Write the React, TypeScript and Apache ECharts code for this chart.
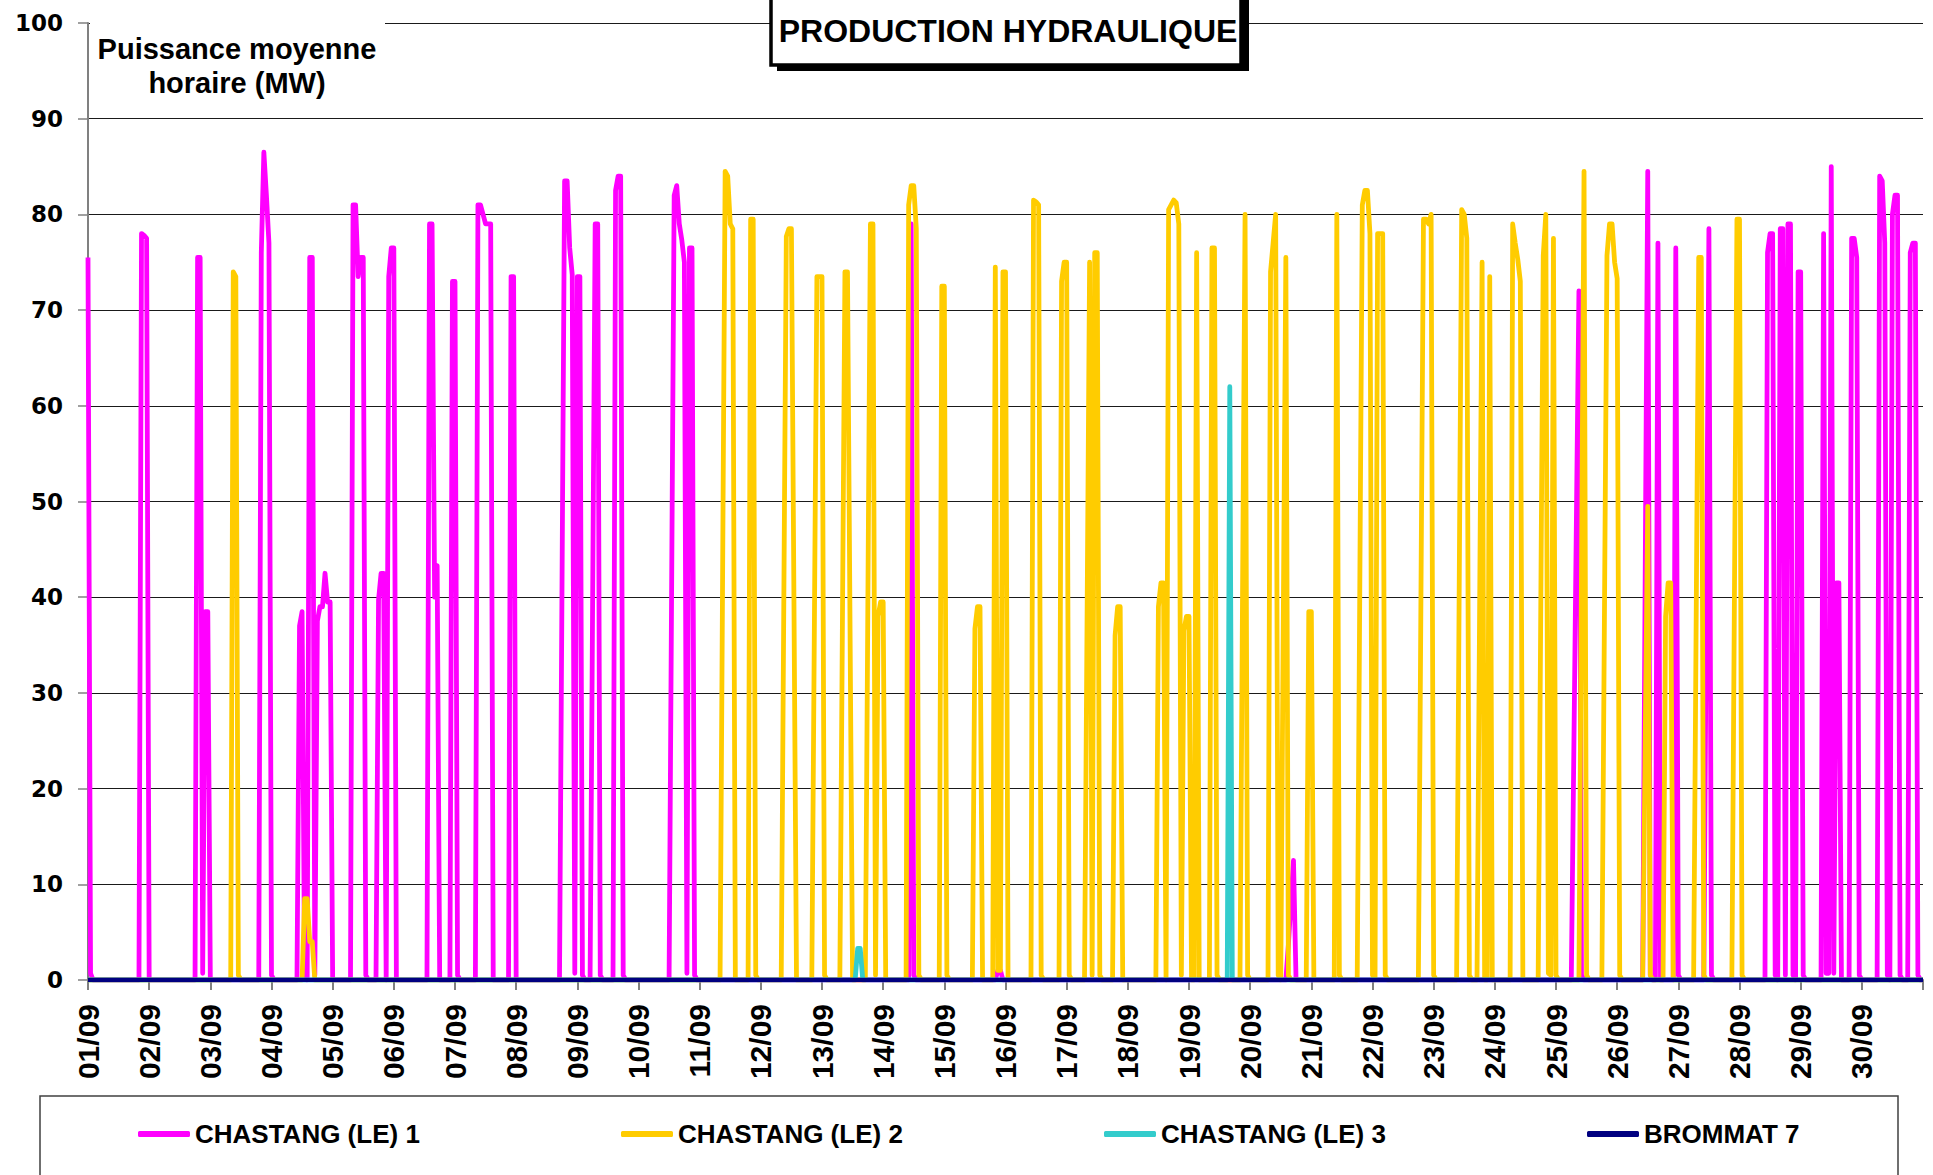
import React, { useEffect, useRef } from "react";
import * as echarts from "echarts";

const dayLabels = [
  "01/09", "02/09", "03/09", "04/09", "05/09", "06/09", "07/09", "08/09", "09/09", "10/09",
  "11/09", "12/09", "13/09", "14/09", "15/09", "16/09", "17/09", "18/09", "19/09", "20/09",
  "21/09", "22/09", "23/09", "24/09", "25/09", "26/09", "27/09", "28/09", "29/09", "30/09",
];

const seriesNames = ["CHASTANG (LE) 1", "CHASTANG (LE) 2", "CHASTANG (LE) 3", "BROMMAT 7"];
const seriesColors = ["#FF00FF", "#FFCC00", "#33CCCC", "#000080"];

// [hour since 01/09 00:00, MW]
const chastang1: [number, number][] = [
  [0, 75.5], [1, 0.7], [2, 0],
  [20, 0], [21, 78], [22, 77.8], [23, 77.5], [24, 0],
  [42, 0], [43, 75.5], [44, 75.5], [45, 0.7], [46, 38.5], [47, 38.5], [48, 0],
  [67, 0], [68, 76], [69, 86.5], [70, 82], [71, 77], [72, 0.5], [73, 0],
  [82, 0], [83, 37], [84, 38.5], [85, 0.5], [86, 0], [87, 75.5], [88, 75.5], [89, 0.5], [90, 37.5], [91, 39], [92, 39], [93, 42.5], [94, 39.5], [95, 39.5], [96, 0],
  [103, 0], [104, 81], [105, 81], [106, 73.5], [107, 75.5], [108, 75.5], [109, 0.5], [110, 0],
  [113, 0], [114, 39.7], [115, 42.5], [116, 42.5], [117, 0], [118, 73.5], [119, 76.5], [120, 76.5], [121, 0],
  [133, 0], [134, 79], [135, 79], [136, 40], [137, 43.3], [138, 0],
  [142, 0], [143, 73], [144, 73], [145, 0.5], [146, 0],
  [152, 0], [153, 81], [154, 81], [155, 80], [156, 79], [157, 79], [158, 79], [159, 0],
  [165, 0], [166, 73.5], [167, 73.5], [168, 0],
  [185, 0], [187, 83.5], [188, 83.5], [189, 76.5], [190, 73.7], [191, 0.7], [192, 73.5], [193, 73.5], [194, 0.5], [195, 0],
  [197, 0], [199, 79], [200, 79], [201, 0.5], [202, 0],
  [206, 0], [207, 82.5], [208, 84], [209, 84], [210, 0.5], [211, 0],
  [228, 0], [230, 82], [231, 83], [232, 79], [233, 77.3], [234, 75], [235, 0.7], [236, 76.5], [237, 76.5], [238, 0.5], [239, 0],
  [322, 0], [323, 79], [324, 0.5], [325, 0],
  [356, 0], [357, 1], [358, 1], [359, 0],
  [470, 0], [471, 3.7], [473, 12.5], [474, 0],
  [582, 0], [585, 72], [586, 0.5], [587, 0],
  [610, 0], [612, 84.5], [613, 0.5], [614, 0],
  [615, 0], [616, 77], [617, 0],
  [622, 0], [623, 76.5], [624, 0.5], [625, 0],
  [634, 0], [636, 78.5], [637, 0.5], [638, 0],
  [658, 0], [659, 76], [660, 78], [661, 78], [662, 0.5], [663, 0], [664, 78.5], [665, 78.5], [666, 0.5], [667, 79], [668, 79], [669, 0.5], [670, 0], [671, 74], [672, 74], [673, 0.5], [674, 0],
  [680, 0], [681, 78], [682, 0.7], [683, 0.7], [684, 85], [685, 0.7], [686, 41.5], [687, 41.5], [688, 0],
  [691, 0], [692, 77.5], [693, 77.5], [694, 75.5], [695, 0.5], [696, 0],
  [702, 0], [703, 84], [704, 83.5], [705, 77], [706, 0.5], [707, 0], [708, 80], [709, 82], [710, 82], [711, 0.5], [712, 0],
  [714, 0], [715, 76], [716, 77], [717, 77], [718, 0.5], [719, 0], [720, 0],
];

const chastang2: [number, number][] = [
  [0, 0],
  [56, 0], [57, 74], [58, 73.5], [59, 0.5], [60, 0],
  [84, 0], [85, 8.5], [86, 8.5], [87, 4], [88, 4], [89, 0],
  [248, 0], [250, 84.5], [251, 84], [252, 79], [253, 78.5], [254, 0],
  [259, 0], [260, 79.5], [261, 79.5], [262, 0.5], [263, 0],
  [272, 0], [274, 77.7], [275, 78.5], [276, 78.5], [278, 0],
  [284, 0], [286, 73.5], [287, 73.5], [288, 73.5], [289, 0.5], [290, 0],
  [295, 0], [297, 74], [298, 74], [300, 0],
  [305, 0], [307, 79], [308, 79], [309, 0.5], [310, 38], [311, 39.5], [312, 39.5], [313, 0],
  [321, 0], [322, 81], [323, 83], [324, 83], [325, 78.5], [326, 0.5], [327, 0],
  [334, 0], [335, 72.5], [336, 72.5], [337, 0.5], [338, 0],
  [347, 0], [348, 36.7], [349, 39], [350, 39], [351, 0],
  [355, 0], [356, 74.5], [357, 1], [358, 1], [359, 74], [360, 74], [361, 0],
  [370, 0], [371, 81.5], [372, 81.3], [373, 81], [374, 0.5], [375, 0],
  [381, 0], [382, 73], [383, 75], [384, 75], [385, 0.5], [386, 0],
  [391, 0], [393, 75], [394, 0.5], [395, 76], [396, 76], [397, 0.5], [398, 0],
  [402, 0], [403, 36], [404, 39], [405, 39], [406, 0],
  [419, 0], [420, 39], [421, 41.5], [422, 41.5], [423, 0], [424, 80.5], [425, 81], [426, 81.5], [427, 81.2], [428, 79], [429, 0.5], [430, 36.5], [431, 38], [432, 38], [433, 0],
  [434, 0], [435, 76], [436, 0],
  [440, 0], [441, 76.5], [442, 76.5], [443, 0.5], [444, 0],
  [452, 0], [454, 80], [455, 0.5], [456, 0],
  [463, 0], [464, 74], [465, 77], [466, 80], [467, 0.5], [468, 0], [470, 75.5], [471, 0.5], [472, 0],
  [478, 0], [479, 38.5], [480, 38.5], [481, 0],
  [489, 0], [490, 80], [491, 0.5], [492, 0],
  [498, 0], [500, 81], [501, 82.5], [502, 82.5], [503, 78], [504, 0.5], [505, 0], [506, 78], [507, 78], [508, 78], [509, 0.5], [510, 0],
  [522, 0], [524, 79.5], [525, 79.5], [526, 79], [527, 80], [528, 0.5], [529, 0],
  [537, 0], [539, 80.5], [540, 80], [541, 77.5], [542, 0.5], [543, 0],
  [545, 0], [547, 75], [548, 0], [549, 0], [550, 73.5], [551, 0],
  [558, 0], [559, 79], [560, 77], [561, 75.3], [562, 73], [563, 0],
  [569, 0], [571, 75.7], [572, 80], [573, 0.7], [574, 0.5], [575, 77.5], [576, 0.5], [577, 0],
  [585, 0], [587, 84.5], [588, 0.5], [589, 0],
  [594, 0], [596, 75.7], [597, 79], [598, 79], [599, 75], [600, 73.3], [601, 0.5], [602, 0],
  [610, 0], [612, 49.5], [613, 0.5], [614, 0],
  [618, 0], [619, 38], [620, 41.5], [621, 41.5], [622, 0],
  [630, 0], [632, 75.5], [633, 75.5], [634, 0.5], [635, 0],
  [645, 0], [647, 79.5], [648, 79.5], [649, 0.5], [650, 0],
  [720, 0],
];

const chastang3: [number, number][] = [
  [0, 0], [301, 0], [302, 3.3], [303, 3.3], [304, 0],
  [447, 0], [448, 62], [449, 0], [720, 0],
];

const brommat7: [number, number][] = [[0, 0], [720, 0]];

const yTicks = { min: 0, max: 100, interval: 10 };
const FONT = '"Liberation Sans", Arial, sans-serif';
const YFONT = '"DejaVu Sans", "Liberation Sans", sans-serif';

export default function App() {
  const ref = useRef<HTMLDivElement>(null);

  useEffect(() => {
    if (!ref.current) return;
    const chart = echarts.init(ref.current, null, { renderer: "svg" });
    const allData = [chastang1, chastang2, chastang3, brommat7];
    const widths = [4.8, 4.8, 4.8, 4.5];
    const legendTextWidths = [420, 420, 420, 200];

    chart.setOption({
      animation: false,
      backgroundColor: "#ffffff",
      grid: { left: 88, right: 10, top: 23, bottom: 195, containLabel: false },
      xAxis: {
        type: "value",
        min: 0,
        max: 720,
        interval: 24,
        axisLine: { show: true, lineStyle: { color: "#808080", width: 2 } },
        axisTick: { show: true, length: 10, lineStyle: { color: "#808080", width: 2 } },
        splitLine: { show: false },
        axisLabel: {
          rotate: 90,
          margin: 24,
          fontFamily: FONT,
          fontWeight: "bold",
          fontSize: 30,
          color: "#000",
          showMaxLabel: true,
          showMinLabel: true,
          formatter: (v: number) => dayLabels[Math.round(v / 24)] ?? "",
        },
      },
      yAxis: {
        type: "value",
        min: yTicks.min,
        max: yTicks.max,
        interval: yTicks.interval,
        axisLine: { show: true, lineStyle: { color: "#808080", width: 2 } },
        axisTick: { show: true, length: 10, lineStyle: { color: "#808080", width: 1.5 } },
        splitLine: { show: true, lineStyle: { color: "#1a1a1a", width: 1 } },
        axisLabel: {
          margin: 25,
          fontFamily: YFONT,
          fontWeight: "bold",
          fontSize: 23,
          color: "#000",
        },
      },
      legend: {
        show: true,
        left: 133,
        top: 1114,
        width: 1780,
        itemWidth: 52,
        itemHeight: 6,
        itemGap: 6,
        icon: "roundRect",
        data: seriesNames.map((name, i) => ({
          name,
          textStyle: { width: legendTextWidths[i] },
        })),
        textStyle: {
          fontFamily: FONT,
          fontWeight: "bold",
          fontSize: 26,
          color: "#000",
          lineHeight: 30,
        },
      },
      series: seriesNames.map((name, i) => ({
        name,
        type: "line",
        data: allData[i],
        showSymbol: false,
        symbol: "none",
        color: seriesColors[i],
        lineStyle: { color: seriesColors[i], width: widths[i], join: "round" },
        z: 2 + i,
      })),
      graphic: [
        {
          type: "rect",
          z: 100,
          shape: { x: 90, y: 4, width: 295, height: 104 },
          style: { fill: "#ffffff" },
        },
        {
          type: "text",
          z: 101,
          x: 237,
          y: 66,
          style: {
            text: "Puissance moyenne\nhoraire (MW)",
            font: `bold 29px ${FONT}`,
            fill: "#000",
            align: "center",
            verticalAlign: "middle",
            lineHeight: 34,
          },
        },
        {
          type: "rect",
          z: 100,
          shape: { x: 777, y: -4, width: 472, height: 75 },
          style: { fill: "#000000" },
        },
        {
          type: "rect",
          z: 101,
          shape: { x: 771, y: -10, width: 470, height: 75 },
          style: { fill: "#ffffff", stroke: "#000000", lineWidth: 3.5 },
        },
        {
          type: "text",
          z: 102,
          x: 1008,
          y: 31,
          style: {
            text: "PRODUCTION HYDRAULIQUE",
            font: `bold 32px ${FONT}`,
            fill: "#000",
            align: "center",
            verticalAlign: "middle",
          },
        },
        {
          type: "rect",
          z: 100,
          shape: { x: 40, y: 1096, width: 1858, height: 120 },
          style: { fill: "none", stroke: "#404040", lineWidth: 1.5 },
        },
      ],
    });

    return () => chart.dispose();
  }, []);

  return (
    <div
      ref={ref}
      style={{ position: "fixed", left: 0, top: 0, width: 1933, height: 1175, background: "#fff" }}
    />
  );
}
